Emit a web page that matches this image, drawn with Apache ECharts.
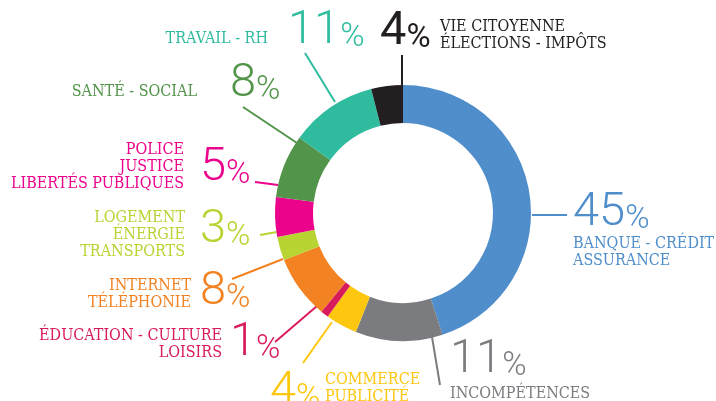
<!DOCTYPE html>
<html>
<head>
<meta charset="utf-8">
<script src="https://cdn.jsdelivr.net/npm/echarts@6/dist/echarts.min.js"></script>
<style>
  html, body { margin: 0; padding: 0; background: #fff; }
  #main { width: 716px; height: 401px; }
</style>
</head>
<body>
<div id="main"></div>
<script>
// données
const categories = [
  "BANQUE - CRÉDIT\nASSURANCE",
  "INCOMPÉTENCES",
  "COMMERCE\nPUBLICITÉ",
  "ÉDUCATION - CULTURE\nLOISIRS",
  "INTERNET\nTÉLÉPHONIE",
  "LOGEMENT\nÉNERGIE\nTRANSPORTS",
  "POLICE\nJUSTICE\nLIBERTÉS PUBLIQUES",
  "SANTÉ - SOCIAL",
  "TRAVAIL - RH",
  "VIE CITOYENNE\nÉLECTIONS - IMPÔTS",
];
const values = [45, 11, 4, 1, 8, 3, 5, 8, 11, 4];
const colors = [
  "#4f8ecb", "#7b7c80", "#fdc70f", "#d81b5c", "#f28222",
  "#b7d433", "#ec038c", "#52944a", "#2fbc9e", "#231f20",
];

// placement des étiquettes (x, y, align)
const numPos = [
  [573, 213], [450, 360], [270, 392], [230, 343], [200, 292],
  [200, 230], [200, 168], [230, 84], [288, 31], [380, 32],
];
const txtPos = [
  [573, 252, "left"], [450, 394, "left"], [325, 388, "left"], [222, 344, "right"],
  [191, 294, "right"], [185, 235, "right"], [184, 167, "right"], [197, 92, "right"],
  [268, 39, "right"], [440, 35, "left"],
];
// traits : [bord de l'anneau, extrémité]
const lines = [
  [[532, 215], [567, 215]],
  [[432, 337], [440, 385]],
  [[332, 322], [303, 363]],
  [[317, 306], [275, 342]],
  [[283, 259], [232, 279]],
  [[277, 232], [260, 235]],
  [[278, 185], [255, 182]],
  [[297, 143], [243, 107]],
  [[335, 102], [305, 53]],
  [[402, 85], [402, 55]],
];

const TXT_FONT = "'DejaVu Serif Condensed', 'DejaVu Serif', serif";
const NUM_FONT = "Roboto, sans-serif";

let myChart = echarts.init(document.getElementById("main"));

const ringData = values.map((v, i) => ({
  value: v,
  name: categories[i],
  itemStyle: { color: colors[i] },
  label: {
    color: colors[i],
    formatter: i === 9 ? "{nb|{c}}{pb|%}" : "{n|{c}}{p|%}",
  },
  labelLine: { lineStyle: { color: colors[i], width: 2 } },
}));

const textData = values.map((v, i) => ({
  value: v,
  name: categories[i],
  itemStyle: { color: "rgba(0,0,0,0)" },
  label: { color: colors[i] },
}));

let option = {
  animation: false,
  series: [
    {
      type: "pie",
      center: [403, 213],
      radius: [90, 128],
      startAngle: 90,
      clockwise: true,
      avoidLabelOverlap: false,
      silent: true,
      label: {
        show: true,
        position: "outside",
        rich: {
          n: { fontFamily: NUM_FONT, fontWeight: 300, fontSize: 47, lineHeight: 47, verticalAlign: "bottom" },
          p: { fontFamily: NUM_FONT, fontWeight: 300, fontSize: 33, lineHeight: 38, verticalAlign: "bottom" },
          nb: { fontFamily: NUM_FONT, fontWeight: 400, fontSize: 47, lineHeight: 47, verticalAlign: "bottom" },
          pb: { fontFamily: NUM_FONT, fontWeight: 400, fontSize: 33, lineHeight: 38, verticalAlign: "bottom" },
        },
      },
      labelLine: { show: true },
      labelLayout: function (params) {
        const i = params.dataIndex;
        const l = lines[i];
        return {
          x: numPos[i][0],
          y: numPos[i][1],
          align: "left",
          verticalAlign: "middle",
          labelLinePoints: [l[0], l[0], l[1]],
        };
      },
      data: ringData,
    },
    {
      type: "pie",
      center: [403, 213],
      radius: [90, 128],
      startAngle: 90,
      clockwise: true,
      avoidLabelOverlap: false,
      silent: true,
      label: {
        show: true,
        position: "outside",
        formatter: "{b}",
        fontFamily: TXT_FONT,
        fontSize: 16,
        lineHeight: 17,
      },
      labelLine: { show: false },
      labelLayout: function (params) {
        const i = params.dataIndex;
        return {
          x: txtPos[i][0],
          y: txtPos[i][1],
          align: txtPos[i][2],
          verticalAlign: "middle",
        };
      },
      data: textData,
    },
  ],
};
myChart.setOption(option);
</script>
</body>
</html>
